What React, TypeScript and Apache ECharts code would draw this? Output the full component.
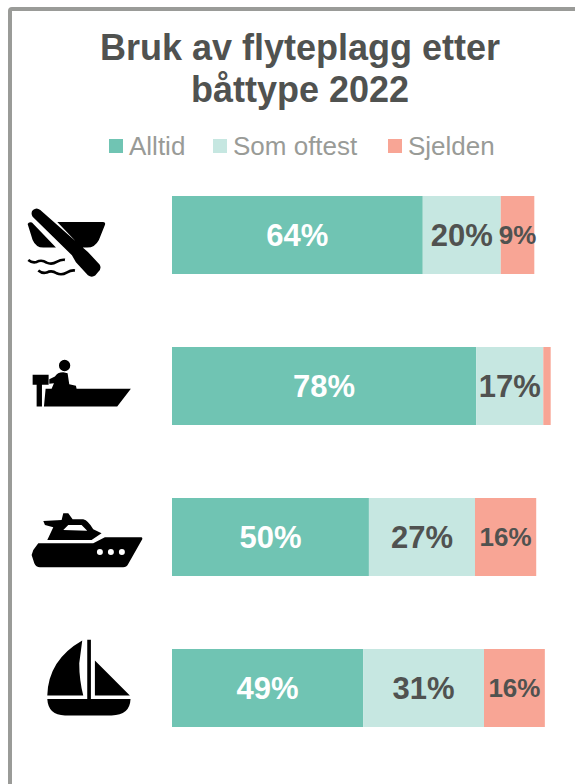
import React, { useEffect, useRef } from "react";
import * as echarts from "echarts";

const categories = ["Robåt", "Motorbåt med styrekult", "Motorbåt med kabin", "Seilbåt"];
const alltid = [64.3, 78, 50.49, 49];
const somOftest = [20, 17.2, 27.2, 31];
const sjelden = [8.6, 1.9, 15.7, 15.6];
const hiddenLabelBelow = 5;

const TITLE = "Bruk av flyteplagg etter\nbåttype 2022";
const COLORS = ["#70C4B3", "#C6E7E1", "#F8A595"];
const NAMES = ["Alltid", "Som oftest", "Sjelden"];
const LEGEND_LEFT = [109, 213, 388];

const SOLID = [
  // rowing boat
  "M98 110 Q91 98 99 90 Q110 81 121 90 L245 200 L264 216 L299 254 Q306 265 296 275 L286 287 Q275 294 264 286 L228 247 L216 226 Z M83 132 Q87 124 96 128 L168 203 L130 203 Q108 203 98 180 Z M172 126 L310 126 Q318 127 315 135 L297 180 Q285 203 262 203 L245 203 Z",
  // small motor boat
  "M177 557 A17 17 0 1 1 211 557 A17 17 0 1 1 177 557 Z M98 585 L146 585 L146 615 L126 615 L126 680 L110 680 L110 615 L98 615 Z M137 627 L393 627 L352 680 L132 680 Z M148 598 L165 590 Q172 577 190 577 L203 580 L208 613 L228 618 L230 627 L155 627 L162 610 L148 612 Z",
];
const SOLID2 = [
  // cabin cruiser
  "M115 160 L280 160 L315 142 L425 142 Q430 145 425 152 L385 222 Q380 232 370 232 L120 232 Q108 232 103 220 L95 195 L100 180 Z M142 150 L160 112 L135 105 L130 93 L185 90 L190 70 L205 70 L218 88 L250 88 Q265 92 280 118 L305 130 L275 150 Z",
  // sailing boat
  "M142 628 L392 628 Q390 677 335 677 L195 677 Q145 677 142 628 Z M262 450 L273 450 L273 628 L262 628 Z M247 452 L238 520 Q238 570 250 617 L142 617 Q145 510 247 452 Z M285 512 L390 617 L285 617 Z",
];
const CUTOUT = "M190 120 L205 105 L245 105 L262 122 Z M291 186 A9 9 0 1 1 309 186 A9 9 0 1 1 291 186 Z M324 186 A9 9 0 1 1 342 186 A9 9 0 1 1 324 186 Z M357 186 A9 9 0 1 1 375 186 A9 9 0 1 1 357 186 Z";
const WAVES = "M85 240 Q97 250 110 246 Q125 238 140 248 Q155 255 170 246 Q185 238 195 240 M115 272 Q127 282 140 278 Q155 270 170 280 Q185 287 200 278 Q215 270 225 272";

echarts.graphic.registerShape("iconTop", echarts.graphic.extendPath(SOLID.join(" "), {}));
echarts.graphic.registerShape("iconBottom", echarts.graphic.extendPath(SOLID2.join(" "), {}));
echarts.graphic.registerShape("iconCut", echarts.graphic.extendPath(CUTOUT, {}));
echarts.graphic.registerShape("iconWaves", echarts.graphic.extendPath(WAVES, {}));

const round = (p: any) => (p.value < hiddenLabelBelow ? "" : `${Math.round(p.value)}%`);

export default function App() {
  const ref = useRef<HTMLDivElement>(null);
  useEffect(() => {
    document.body.style.margin = "0";
    const chart = echarts.init(ref.current!, undefined, { renderer: "svg" });
    const s = 1 / 3;
    const labelBase = { show: true, position: "inside" as const, fontFamily: "Liberation Sans", fontWeight: "bold" as const, formatter: round };
    const series = [alltid, somOftest, sjelden].map((data, i) => ({
      type: "bar" as const,
      name: NAMES[i],
      stack: "total",
      data,
      barWidth: 78,
      itemStyle: { color: COLORS[i] },
      label: { ...labelBase, fontSize: i === 2 ? 26 : 31, color: i === 0 ? "#ffffff" : "#505250" },
    }));
    chart.setOption({
      animation: false,
      backgroundColor: "#ffffff",
      title: {
        text: TITLE,
        left: 295,
        top: 21,
        textAlign: "center",
        textStyle: { fontFamily: "Liberation Sans", fontWeight: "bold", fontSize: 36, lineHeight: 42, color: "#505250" },
      },
      legend: NAMES.map((name, i) => ({
        data: [name],
        left: LEGEND_LEFT[i],
        top: 133,
        padding: 0,
        icon: "rect",
        itemWidth: 14,
        itemHeight: 14,
        itemGap: 0,
        selectedMode: false,
        textStyle: { fontFamily: "Liberation Sans", fontSize: 26, color: "#999B97", padding: [0, 0, 0, 1] },
      })),
      grid: { left: 172, top: 159.5, width: 390, height: 604 },
      xAxis: { type: "value", min: 0, max: 100, show: false },
      yAxis: { type: "category", data: categories, inverse: true, show: false },
      graphic: [
        { type: "rect", x: 10, y: 9, shape: { x: 0, y: 0, width: 800, height: 1000, r: 2 }, style: { fill: "none", stroke: "#9A9B98", lineWidth: 4 }, silent: true, z: -10 },
        { type: "iconTop", x: 0, y: 180, scaleX: s, scaleY: s, style: { fill: "#000000" } },
        { type: "iconWaves", x: 0, y: 180, scaleX: s, scaleY: s, style: { fill: "none", stroke: "#000000", lineWidth: 8 } },
        { type: "iconBottom", x: 0, y: 490, scaleX: s, scaleY: s, style: { fill: "#000000" } },
        { type: "iconCut", x: 0, y: 490, scaleX: s, scaleY: s, z: 10, style: { fill: "#ffffff" } },
      ],
      series,
    });
    return () => chart.dispose();
  }, []);
  return <div ref={ref} style={{ position: "absolute", left: 0, top: 0, width: 575, height: 784 }} />;
}
